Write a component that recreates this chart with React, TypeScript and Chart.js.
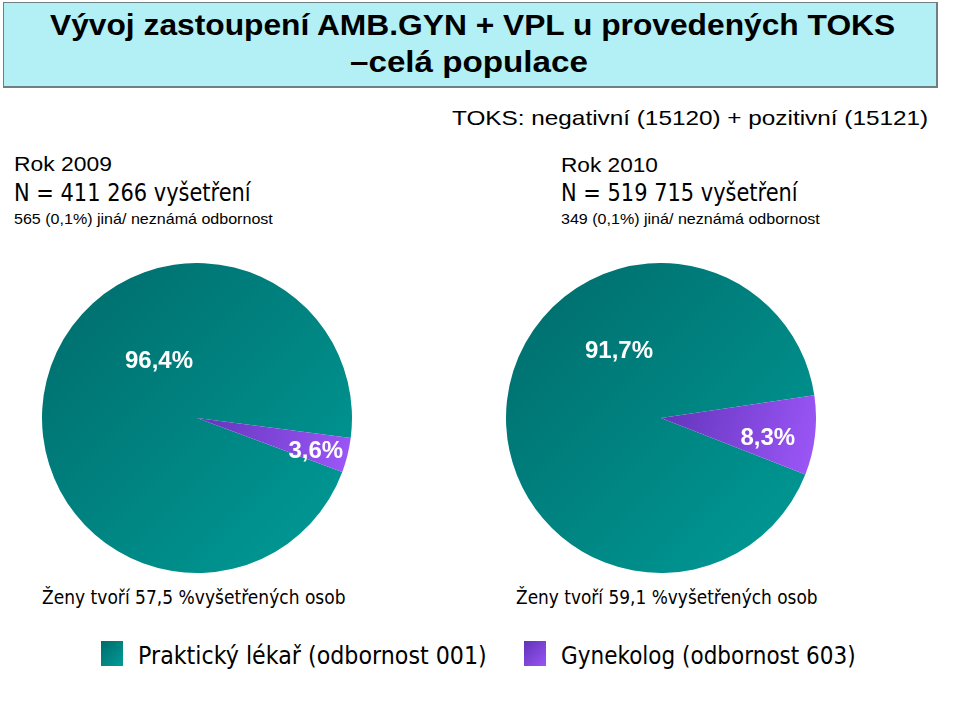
import React, { useEffect, useLayoutEffect, useRef, useState } from "react";
import { Chart, registerables } from "chart.js";

Chart.register(...registerables);

// ---------- data ----------
const categories = ["Praktický lékař (odbornost 001)", "Gynekolog (odbornost 603)"];
const share2009 = [96.4, 3.6];
const share2010 = [91.7, 8.3];
const labels2009 = ["96,4%", "3,6%"];
const labels2010 = ["91,7%", "8,3%"];
const titleLines = ["Vývoj zastoupení AMB.GYN + VPL u provedených TOKS", "–celá populace"];
const subtitle = "TOKS: negativní (15120) + pozitivní (15121)";
const yearInfo2009 = ["Rok 2009", "N = 411 266 vyšetření", "565 (0,1%) jiná/ neznámá odbornost", "Ženy tvoří 57,5 %vyšetřených osob"];
const yearInfo2010 = ["Rok 2010", "N = 519 715 vyšetření", "349 (0,1%) jiná/ neznámá odbornost", "Ženy tvoří 59,1 %vyšetřených osob"];

const TEAL_A = "#006b6a";
const TEAL_B = "#009c98";
const PURP_A = "#5f33b8";
const PURP_B = "#9a55f5";

type FitProps = {
  text: string;
  left: number;
  top: number;
  width: number;
  size: number;
  family: string;
  weight?: string;
  color?: string;
  center?: boolean;
};

function FitText({ text, left, top, width, size, family, weight = "normal", color = "#000", center = false }: FitProps) {
  const ref = useRef<HTMLSpanElement>(null);
  const [s, setS] = useState(1);
  useLayoutEffect(() => {
    if (ref.current) {
      const w = ref.current.offsetWidth;
      if (w) setS(width / w);
    }
  }, [text, width, size, family]);
  const x = center ? left - width / 2 : left;
  return (
    <span
      ref={ref}
      style={{
        position: "absolute",
        left: x,
        top,
        whiteSpace: "nowrap",
        fontFamily: family,
        fontSize: size,
        fontWeight: weight as any,
        color,
        lineHeight: 1,
        transformOrigin: "left center",
        transform: `translateY(-50%) scaleX(${s})`,
      }}
    >
      {text}
    </span>
  );
}

function PieChart({ values, rotation, left, top, size }: { values: number[]; rotation: number; left: number; top: number; size: number }) {
  const ref = useRef<HTMLCanvasElement>(null);
  useEffect(() => {
    if (!ref.current) return;
    const fill = (ctx: any) => {
      const chart = ctx.chart;
      const area = chart.chartArea;
      const c = chart.ctx as CanvasRenderingContext2D;
      if (!area) return ctx.dataIndex === 0 ? TEAL_B : PURP_B;
      if (ctx.dataIndex === 0) {
        const g = c.createLinearGradient(area.left, area.top, area.right, area.bottom);
        g.addColorStop(0, TEAL_A);
        g.addColorStop(1, TEAL_B);
        return g;
      }
      const cx = (area.left + area.right) / 2;
      const g = c.createLinearGradient(cx, area.top + area.height * 0.4, area.right, area.top + area.height * 0.55);
      g.addColorStop(0, PURP_A);
      g.addColorStop(1, PURP_B);
      return g;
    };
    const chart = new Chart(ref.current, {
      type: "pie",
      data: {
        labels: categories,
        datasets: [
          {
            data: values,
            backgroundColor: fill as any,
            borderWidth: 0,
          },
        ],
      },
      options: {
        responsive: false,
        animation: false,
        rotation,
        layout: { padding: 0 },
        plugins: { legend: { display: false }, tooltip: { enabled: false }, title: { display: false } },
      },
    });
    return () => chart.destroy();
  }, [values, rotation]);
  return <canvas ref={ref} width={size} height={size} style={{ position: "absolute", left, top, width: size, height: size }} />;
}

export default function App() {
  const arial = "'Liberation Sans', Arial, sans-serif";
  const tahoma = "'DejaVu Sans', Verdana, sans-serif";
  return (
    <div style={{ position: "absolute", left: 0, top: 0, width: 960, height: 719, background: "#fff", overflow: "hidden" }}>
      {/* title box */}
      <div
        style={{
          position: "absolute",
          left: 3,
          top: 2,
          width: 932,
          height: 83,
          background: "#b2f0f6",
          border: "1px solid #6f7f82",
          borderRightWidth: 2,
          borderBottomWidth: 2,
        }}
      />
      <FitText text={titleLines[0]} left={50} top={25} width={845} size={29} family={arial} weight="bold" />
      <FitText text={titleLines[1]} left={350} top={62} width={238} size={29} family={arial} weight="bold" />

      <FitText text={subtitle} left={452} top={117} width={476} size={21} family={arial} />

      <FitText text={yearInfo2009[0]} left={14} top={163} width={98} size={21} family={arial} />
      <FitText text={yearInfo2009[1]} left={14} top={192} width={237} size={25} family={tahoma} />
      <FitText text={yearInfo2009[2]} left={14} top={218} width={259} size={15} family={arial} />

      <FitText text={yearInfo2010[0]} left={561} top={164} width={97} size={21} family={arial} />
      <FitText text={yearInfo2010[1]} left={561} top={192} width={237} size={25} family={tahoma} />
      <FitText text={yearInfo2010[2]} left={561} top={218} width={259} size={15} family={arial} />

      <PieChart values={share2009} rotation={110.4} left={42} top={263} size={310} />
      <PieChart values={share2010} rotation={111.4} left={506} top={263} size={310} />

      <FitText text={labels2009[0]} left={159} top={360} width={68} size={24} family={arial} weight="bold" color="#fff" center />
      <FitText text={labels2009[1]} left={316} top={450} width={55} size={24} family={arial} weight="bold" color="#fff" center />
      <FitText text={labels2010[0]} left={619} top={350} width={68} size={24} family={arial} weight="bold" color="#fff" center />
      <FitText text={labels2010[1]} left={768} top={437} width={55} size={24} family={arial} weight="bold" color="#fff" center />

      <FitText text={yearInfo2009[3]} left={42} top={597} width={304} size={19} family={tahoma} />
      <FitText text={yearInfo2010[3]} left={516} top={597} width={302} size={19} family={tahoma} />

      {/* legend */}
      <div style={{ position: "absolute", left: 101, top: 641, width: 22, height: 25, background: `linear-gradient(135deg, ${TEAL_A}, ${TEAL_B})` }} />
      <FitText text={categories[0]} left={138} top={655} width={349} size={25} family={tahoma} />
      <div style={{ position: "absolute", left: 524, top: 641, width: 22, height: 25, background: `linear-gradient(135deg, ${PURP_A}, ${PURP_B})` }} />
      <FitText text={categories[1]} left={561} top={655} width={295} size={25} family={tahoma} />
    </div>
  );
}
